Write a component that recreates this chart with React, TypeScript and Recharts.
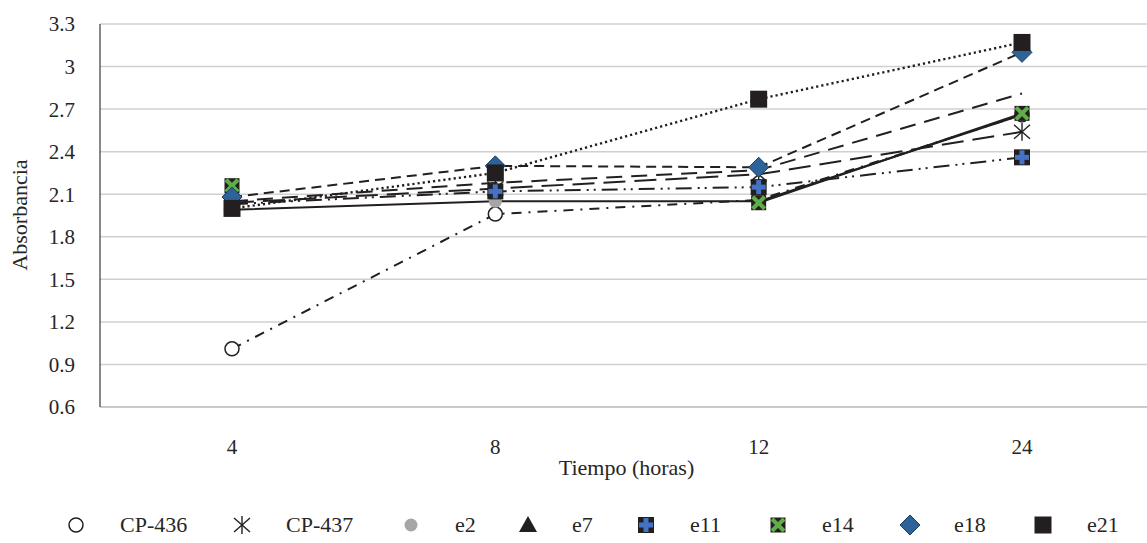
import { CartesianGrid, Line, LineChart, XAxis, YAxis } from 'recharts';

const tiempos = ['4', '8', '12', '24'];
const cp436 = [1.01, 1.96, 2.06, 2.66];
const cp437 = [2.04, 2.14, 2.24, 2.54];
const e2 = [1.99, 2.05, 2.05, 2.66];
const e7 = [2.05, 2.18, 2.27, 2.81];
const e11 = [2.03, 2.12, 2.15, 2.36];
const e14 = [2.16, null, 2.04, 2.67];
const e18 = [2.08, 2.3, 2.29, 3.1];
const e21 = [2.0, 2.25, 2.77, 3.17];
const yTicks = [0.6, 0.9, 1.2, 1.5, 1.8, 2.1, 2.4, 2.7, 3, 3.3];

const data = tiempos.map((t, i) => ({
  tiempo: t,
  cp436: cp436[i],
  cp437: cp437[i],
  e2: e2[i],
  e7: e7[i],
  e11: e11[i],
  e14: e14[i],
  e18: e18[i],
  e21: e21[i]
}));

const INK = '#231f20';
const TEXT = '#262626';
const FONT = '"Liberation Serif", "Times New Roman", serif';

type Kind = 'circle' | 'star' | 'dot' | 'triangle' | 'cross' | 'xbox' | 'diamond' | 'square';

function shape(kind: Kind, cx: number, cy: number) {
  switch (kind) {
    case 'circle':
      return <circle cx={cx} cy={cy} r={7} fill="#fff" stroke={INK} strokeWidth={1.5} />;
    case 'star':
      return (
        <g stroke={INK} strokeWidth={1.4}>
          <line x1={cx} y1={cy - 9} x2={cx} y2={cy + 9} />
          <line x1={cx - 8} y1={cy - 7} x2={cx + 8} y2={cy + 7} />
          <line x1={cx - 8} y1={cy + 7} x2={cx + 8} y2={cy - 7} />
        </g>
      );
    case 'dot':
      return <circle cx={cx} cy={cy} r={6.5} fill="#a6a6a6" />;
    case 'triangle':
      return <polygon points={`${cx},${cy - 9} ${cx + 9},${cy + 7} ${cx - 9},${cy + 7}`} fill={INK} />;
    case 'cross':
      return (
        <g>
          <rect x={cx - 8} y={cy - 8} width={16} height={16} fill={INK} />
          <rect x={cx - 2.5} y={cy - 7} width={5} height={14} fill="#4472c4" />
          <rect x={cx - 7} y={cy - 2.5} width={14} height={5} fill="#4472c4" />
        </g>
      );
    case 'xbox':
      return (
        <g>
          <rect x={cx - 7.5} y={cy - 7.5} width={15} height={15} fill={INK} />
          <line x1={cx - 6} y1={cy - 6} x2={cx + 6} y2={cy + 6} stroke="#5fae4a" strokeWidth={4} />
          <line x1={cx - 6} y1={cy + 6} x2={cx + 6} y2={cy - 6} stroke="#5fae4a" strokeWidth={4} />
        </g>
      );
    case 'diamond':
      return (
        <polygon
          points={`${cx},${cy - 10} ${cx + 10},${cy} ${cx},${cy + 10} ${cx - 10},${cy}`}
          fill="#2e6399"
          stroke="#1d3c5e"
          strokeWidth={1}
        />
      );
    case 'square':
      return <rect x={cx - 8.5} y={cy - 8.5} width={17} height={17} fill={INK} />;
  }
}

const marker = (kind: Kind) => (props: any) => {
  const { cx, cy, value, index } = props;
  if (cy == null || value == null || Number.isNaN(cy)) return <g key={`${kind}-${index}`} />;
  return <g key={`${kind}-${index}`}>{shape(kind, cx, cy)}</g>;
};

const series: { key: string; name: string; kind: Kind; dash?: string; showDots?: boolean; width?: number }[] = [
  { key: 'cp436', name: 'CP-436', kind: 'circle', dash: '10 7 2 7' },
  { key: 'cp437', name: 'CP-437', kind: 'star', dash: '22 9' },
  { key: 'e2', name: 'e2', kind: 'dot' },
  { key: 'e7', name: 'e7', kind: 'triangle', dash: '16 9', showDots: false },
  { key: 'e11', name: 'e11', kind: 'cross', dash: '16 6 2 5 2 6' },
  { key: 'e14', name: 'e14', kind: 'xbox' },
  { key: 'e18', name: 'e18', kind: 'diamond', dash: '10 6' },
  { key: 'e21', name: 'e21', kind: 'square', dash: '2.2 3', width: 2.4 }
];

// legend marker centres, in page pixels
const legendX = [76, 242, 411, 528, 646, 778, 910, 1043];

export default function App() {
  return (
    <div style={{ position: 'absolute', left: 0, top: 0, width: 1147, height: 543, overflow: 'hidden', background: '#fff', fontFamily: FONT }}>
      <LineChart width={1160} height={543} data={data} margin={{ top: 24, right: 7, left: 0, bottom: 0 }}>
        <CartesianGrid vertical={false} stroke="#d0d0d0" strokeWidth={1.5} />
        <XAxis
          dataKey="tiempo"
          height={136}
          padding={{ left: 132, right: 131 }}
          axisLine={{ stroke: '#c4c4c4', strokeWidth: 1.5 }}
          tickLine={false}
          tickMargin={26}
          tick={{ fontSize: 21, fill: TEXT, fontFamily: FONT }}
          label={{ value: 'Tiempo (horas)', position: 'insideTop', offset: 52, fontSize: 22, fill: TEXT, fontFamily: FONT }}
        />
        <YAxis
          width={100}
          domain={[0.6, 3.3]}
          ticks={yTicks}
          allowDataOverflow
          axisLine={{ stroke: '#3a3a3a', strokeWidth: 1.2 }}
          tickLine={false}
          tickMargin={19}
          tick={{ fontSize: 21, fill: TEXT, fontFamily: FONT }}
        />
        {series.map((s) => (
          <Line
            key={s.key}
            dataKey={s.key}
            name={s.name}
            stroke={INK}
            strokeWidth={s.width ?? 2}
            strokeDasharray={s.dash}
            dot={s.showDots === false ? false : marker(s.kind)}
            activeDot={false}
            isAnimationActive={false}
          />
        ))}
      </LineChart>
      <div
        style={{
          position: 'absolute',
          left: -40,
          top: 200,
          width: 120,
          height: 30,
          lineHeight: '30px',
          textAlign: 'center',
          transform: 'rotate(-90deg)',
          fontSize: 22,
          color: TEXT,
          whiteSpace: 'nowrap'
        }}
      >
        Absorbancia
      </div>
      {series.map((s, i) => (
        <div
          key={s.key}
          style={{
            position: 'absolute',
            left: legendX[i] - 10,
            top: 513,
            height: 24,
            display: 'flex',
            alignItems: 'center',
            fontSize: 22,
            color: TEXT,
            whiteSpace: 'nowrap'
          }}
        >
          <svg width={20} height={22} style={{ marginRight: 34 }}>
            {shape(s.kind, 10, 11)}
          </svg>
          <span>{s.name}</span>
        </div>
      ))}
    </div>
  );
}
